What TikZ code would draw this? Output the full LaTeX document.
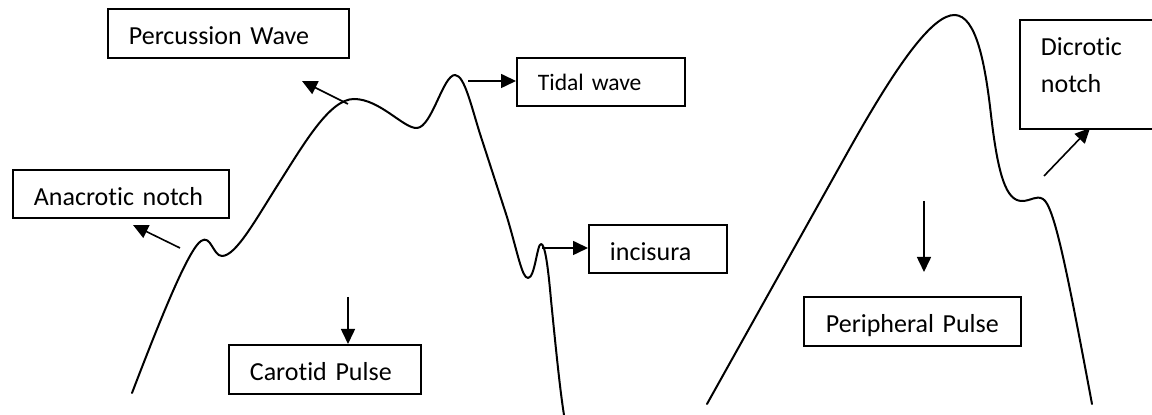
\documentclass[tikz,border=0pt]{standalone}
\usepackage{fontspec}
\setmainfont{Carlito}[Ligatures={NoCommon,NoContextual}]
\usetikzlibrary{arrows.meta}
\begin{document}
\begin{tikzpicture}[x=0.5pt,y=-0.5pt,
  box/.style={draw, line width=0.9pt, anchor=north west, inner xsep=10.5pt, inner ysep=0pt,
    align=left, text height=11.5pt, text depth=0pt, font=\fontsize{13}{18.5}\selectfont},
  wave/.style={line width=1pt, line join=round, line cap=round},
  arr/.style={line width=0.8pt, -{Triangle[length=7.5pt,width=7pt]}}]
\useasboundingbox (0,0) rectangle (1152,415);
% boxes
\node[box, minimum width=120.5pt, minimum height=24.5pt, text width=99.5pt] (perc) at (107,8) {\mbox{Percussion Wave}};
\node[box, minimum width=84pt, minimum height=24pt, text width=63pt, text height=9pt,
  font=\fontsize{11.8}{14}\selectfont] (tidal) at (516,57) {\mbox{Tidal wave}};
\node[box, minimum width=108pt, minimum height=24pt, text width=87pt] (anac) at (12,169) {\mbox{Anacrotic notch}};
\node[box, minimum width=69pt, minimum height=24pt, text width=48pt, text height=12pt] (inc) at (588,224) {incisura};
\node[box, minimum width=96pt, minimum height=24.5pt, text width=75pt, text height=11pt] (car) at (228,344) {\mbox{Carotid Pulse}};
\node[box, minimum width=108.5pt, minimum height=24.5pt, text width=86.5pt, inner xsep=11pt] (per) at (803,296) {\mbox{Peripheral Pulse}};
\node[box, minimum width=100pt, minimum height=54.5pt, text width=79pt, text height=10pt, text depth=28.5pt] (dic) at (1019,19) {Dicrotic\\notch};
% carotid pulse wave
\draw[wave] (132,393) .. controls (160,320) and (188,250) .. (201,241)
  .. controls (211,234) and (213,256) .. (222,256)
  .. controls (236,256) and (256,219) .. (279,183)
  .. controls (305,142) and (330,99) .. (354,99)
  .. controls (380,99) and (404,129) .. (417,128)
  .. controls (432,127) and (443,75) .. (455,75)
  .. controls (465,75) and (472,110) .. (482,140)
  -- (507,217)
  .. controls (518,254) and (522,278) .. (528,278)
  .. controls (535,278) and (537,244) .. (541,244)
  .. controls (545,244) and (548,266) .. (551,300)
  .. controls (556,350) and (560,390) .. (564,415);
% peripheral pulse wave
\draw[wave] (707,404) -- (850,148)
  .. controls (895,68) and (932,14) .. (955,15)
  .. controls (976,16) and (985,62) .. (991,115)
  .. controls (998,175) and (1006,201) .. (1022,201)
  .. controls (1031,201) and (1036,195) .. (1043,199)
  .. controls (1054,206) and (1066,265) .. (1092,404);
% arrow tails and free tips
\coordinate (percT) at (348,104);
\coordinate (percH) at (302,81);
\coordinate (tidT) at (468,81);
\coordinate (anacT) at (180,248);
\coordinate (anacH) at (133,225);
\coordinate (incT) at (542,248);
\coordinate (carT) at (348,297);
\coordinate (perT) at (924,201);
\coordinate (perH) at (924,272);
\coordinate (dicT) at (1044,176);
\coordinate (dicH) at (1090,128);
% arrows
\draw[arr] (percT) -- (percH);
\draw[arr] (tidT) -- (tidT -| tidal.west);
\draw[arr] (anacT) -- (anacH);
\draw[arr] (incT) -- (incT -| inc.west);
\draw[arr] (carT) -- (carT |- car.north);
\draw[arr] (perT) -- (perH);
\draw[arr] (dicT) -- (dicH);
\end{tikzpicture}
\end{document}
